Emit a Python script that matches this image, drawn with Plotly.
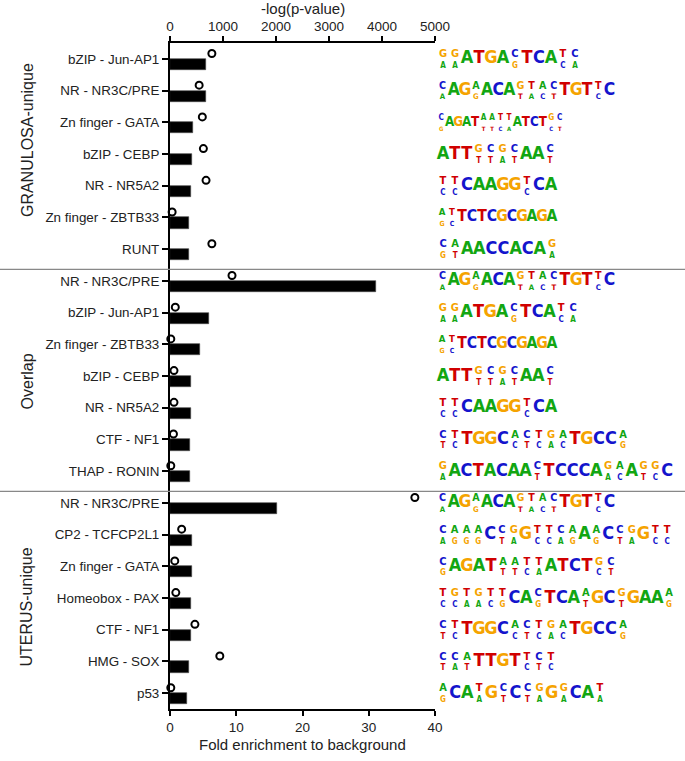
import re
import plotly.graph_objects as go

# ---------------- data ----------------
motifs = [
    "bZIP - Jun-AP1", "NR - NR3C/PRE", "Zn finger - GATA", "bZIP - CEBP",
    "NR - NR5A2", "Zn finger - ZBTB33", "RUNT",
    "NR - NR3C/PRE", "bZIP - Jun-AP1", "Zn finger - ZBTB33", "bZIP - CEBP",
    "NR - NR5A2", "CTF - NF1", "THAP - RONIN",
    "NR - NR3C/PRE", "CP2 - TCFCP2L1", "Zn finger - GATA", "Homeobox - PAX",
    "CTF - NF1", "HMG - SOX", "p53",
]
fold_enrichment = [5.5, 5.4, 3.4, 3.3, 3.2, 2.9, 2.8,
                   31.1, 5.9, 4.5, 3.2, 3.1, 3.0, 3.0,
                   16.2, 3.3, 3.3, 3.2, 3.1, 2.8, 2.5]
neg_log_p = [790, 550, 610, 630, 680, 40, 790,
             1170, 100, 15, 75, 75, 65, 15,
             4620, 220, 90, 110, 470, 940, 15]
groups = ["GRANULOSA-unique", "Overlap", "UTERUS-unique"]
group_sizes = [7, 7, 7]

# consensus logos: single letter = dominant base, [XY] = degenerate position (X over Y)
logos = [
    "[GA][GA]ATGA[CG]TCA[TC][CA]",
    "[CA]AG[AG]ACA[GT][TA][AC][CT]TGT[TC]C",
    "[CG]AGAT[AT][AT][TC][TA]ATCT[GC][CT]",
    "ATT[GT][CT][GA][CT]AA[CT]",
    "[TC][TC]CAAGG[TC]CA",
    "[AG][TC]TCTCGCGAGA",
    "[CG][AT]AACCACA[GA]",
    "[CA]AG[AG]ACA[GT][TA][AC][CT]TGT[TC]C",
    "[GA][GA]ATGA[CG]TCA[TC][CA]",
    "[AG][TC]TCTCGCGAGA",
    "ATT[GT][CT][GA][CT]AA[CT]",
    "[TC][TC]CAAGG[TC]CA",
    "[CT][TC]TGGC[AC][CT][TC][GA][AC]TGCC[AG]",
    "[GA]ACTACAA[CT]TCCCA[GA][AC]A[GT][GC]C",
    "[CA]AG[AG]ACA[GT][TA][AC][CT]TGT[TC]C",
    "[CA][AG][AG][AG]C[CT][GA]G[TC][TC][CA][AG]A[AG]C[CT][GA]G[TC][TC]",
    "[CG]AGAT[AT][AT][TC][TA]ATCT[GC][CT]",
    "[TC][GC][TA][GA][TC][TG]CA[CG]TCA[AT]GC[GT]GAA[AG]",
    "[CT][TC]TGGC[AC][CT][TC][GA][AC]TGCC[AG]",
    "[CT][CA][AT]TTGT[TC][CT][TC]",
    "[AG]CA[TA]G[CT]C[CT][GA]G[GA]CA[TA]",
]
fold_ticks = [0, 10, 20, 30, 40]
p_ticks = [0, 1000, 2000, 3000, 4000, 5000]

# ---------------- style ----------------
logo_span_px = [144, 178, 127, 119, 120, 120, 121,
                178, 142, 120, 119, 120, 192, 236,
                178, 236, 180, 238, 192, 120, 169]
group_label_shift = [-0.44, 0.17, 0.3]
BASE_COLORS = {"A": "#12a612", "C": "#1414cc", "G": "#f5a300", "T": "#d00000"}
FONT = "Liberation Sans, Arial, sans-serif"
LOGO_FONT = "Liberation Sans Narrow, DejaVu Sans Condensed, Arial Narrow, sans-serif"

W, H = 685, 761
ML, MR, MT, MB = 170, 0, 43, 52
plot_w = W - ML - MR
plot_h = H - MT - MB
main_w = 265
logo_x0 = 437

n = len(motifs)
rows = list(range(n))

fig = go.Figure()

fig.add_trace(go.Bar(
    x=fold_enrichment, y=rows, orientation="h", offset=0, width=0.35,
    marker=dict(color="black", line=dict(color="#444", width=0.6)),
    xaxis="x", yaxis="y", showlegend=False, hoverinfo="x",
))
fig.add_trace(go.Scatter(
    x=neg_log_p, y=[r - 0.17 for r in rows], mode="markers",
    marker=dict(symbol="circle-open", size=7, color="black", line=dict(width=2)),
    xaxis="x2", yaxis="y", showlegend=False, cliponaxis=False,
))

# sequence logos as coloured letters
lx, ly, lt, lc, ls = [], [], [], [], []
tok = re.compile(r"\[([ACGT])([ACGT])\]|([ACGT])")
for i, seq in enumerate(logos):
    toks = tok.findall(seq)
    step = logo_span_px[i] / len(toks)
    f = max(0.74, min(1.0, step / 11.5))
    for k, (a, b, c) in enumerate(toks):
        xc = (k + 0.5) * step
        if c:
            lx.append(xc); ly.append(i); lt.append(c); lc.append(BASE_COLORS[c]); ls.append(18 * f)
        else:
            lx.append(xc); ly.append(i - 0.14); lt.append(a); lc.append(BASE_COLORS[a]); ls.append(11 * f)
            lx.append(xc); ly.append(i + 0.22); lt.append(b); lc.append(BASE_COLORS[b]); ls.append(8 * f)
fig.add_trace(go.Scatter(
    x=lx, y=ly, text=lt, mode="text", textposition="middle center",
    textfont=dict(family=LOGO_FONT, size=ls, color=lc, weight="bold"),
    xaxis="x3", yaxis="y", showlegend=False, cliponaxis=False, hoverinfo="skip",
))

# group separators
start = 0
bounds = []
for s in group_sizes[:-1]:
    start += s
    bounds.append(start - 0.36)
for b in bounds:
    fig.add_shape(type="line", xref="paper", yref="y", x0=-ML / plot_w, x1=1,
                  y0=b, y1=b, line=dict(color="#888888", width=1.3))

# group labels
start = 0
for g, s, sh in zip(groups, group_sizes, group_label_shift):
    yc = start + (s - 1) / 2 + sh
    fig.add_annotation(text=g, xref="paper", yref="y", x=(27 - ML) / plot_w, y=yc,
                       xanchor="center", yanchor="middle",
                       textangle=-90, showarrow=False,
                       font=dict(family=FONT, size=16, color="#222"))
    start += s

# axis titles
fig.add_annotation(text="-log(p-value)", xref="paper", yref="paper",
                   x=0.5 * main_w / plot_w, y=1 + (MT - 9) / plot_h,
                   xanchor="center", yanchor="middle", showarrow=False,
                   font=dict(family=FONT, size=15, color="#222"))
fig.add_annotation(text="Fold enrichment to background", xref="paper", yref="paper",
                   x=0.5 * main_w / plot_w, y=-(745 - (H - MB)) / plot_h,
                   xanchor="center", yanchor="middle", showarrow=False,
                   font=dict(family=FONT, size=15, color="#222"))

axis_common = dict(showline=True, linecolor="black", linewidth=2, ticks="outside",
                   ticklen=5, tickwidth=2, tickcolor="black", showgrid=False, zeroline=False,
                   automargin=False,
                   tickfont=dict(family=FONT, size=13.5, color="#222"))

fig.update_layout(
    width=W, height=H, margin=dict(l=ML, r=MR, t=MT, b=MB, autoexpand=False),
    plot_bgcolor="white", paper_bgcolor="white",
    bargap=0, showlegend=False,
    xaxis=dict(domain=[0, main_w / plot_w], range=[0, 40], tickvals=fold_ticks,
               anchor="y", **axis_common),
    xaxis2=dict(range=[0, 5000], tickvals=p_ticks, side="top", overlaying="x",
                anchor="y", **axis_common),
    xaxis3=dict(domain=[(logo_x0 - ML) / plot_w, 1], range=[0, W - logo_x0],
                visible=False, anchor="y", fixedrange=True),
    yaxis=dict(range=[n - 0.5, -0.5], tickvals=rows, ticktext=motifs,
               showline=True, linecolor="black", linewidth=2, ticks="outside",
               ticklen=6, tickwidth=2, tickcolor="black", showgrid=False, zeroline=False,
               automargin=False,
               tickfont=dict(family=FONT, size=13.4, color="#222"), anchor="x"),
)

# remove the browser's default 8px body margin so the figure sits at the page corner
fig.write_html("out.html", config={"displayModeBar": False},
               post_script="document.body.style.margin='0';document.body.style.overflow='hidden';")
